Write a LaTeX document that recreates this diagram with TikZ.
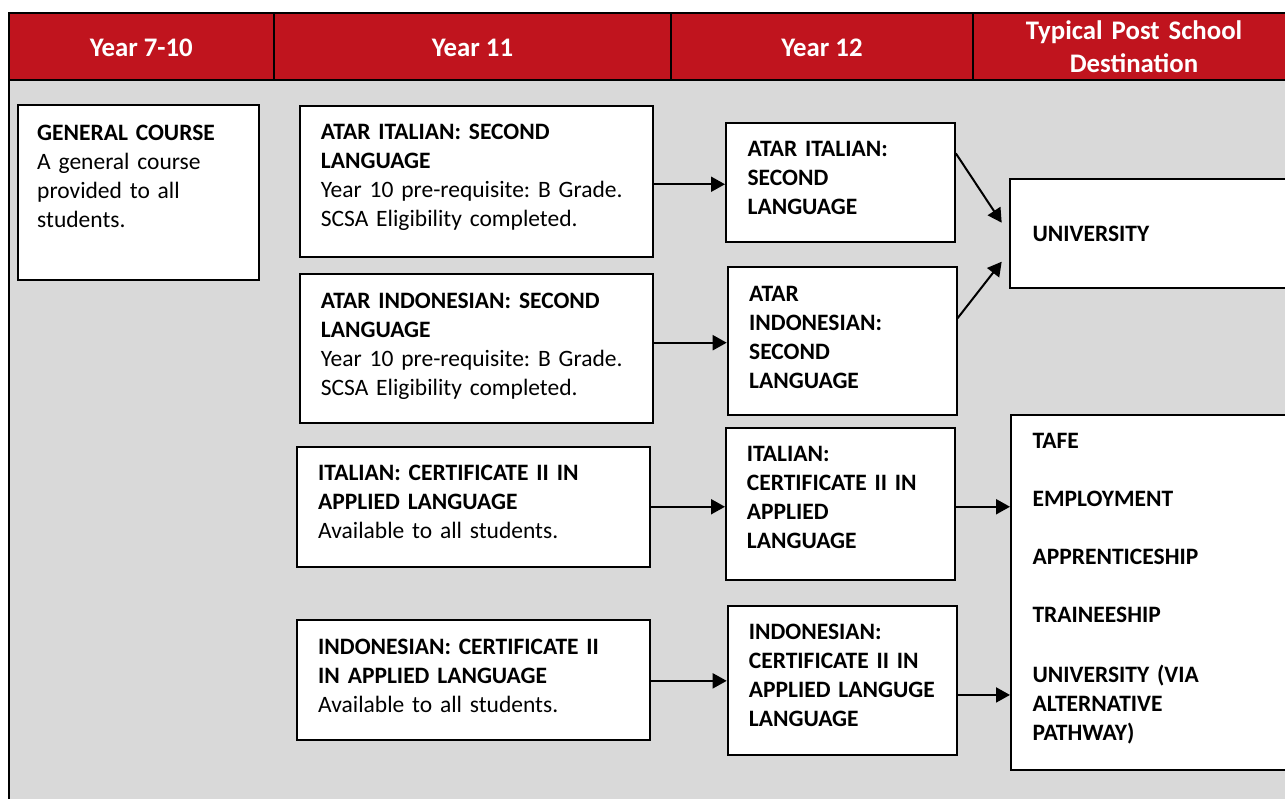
\documentclass[tikz,border=0pt]{standalone}
\usepackage{fontspec}
\setmainfont{Carlito}
\usetikzlibrary{arrows.meta}
\definecolor{hdrred}{RGB}{192,20,30}
\definecolor{bggray}{RGB}{217,217,217}
\newcommand\bodyfont{\fontsize{23.5}{29}\selectfont\frenchspacing}
\newcommand\hdrfont{\fontsize{26.8}{33.3}\selectfont\bfseries\frenchspacing}
\newcommand\inbox[2]{\hspace*{#1}\parbox[t]{\dimexpr\linewidth-#1\relax}{\raggedright #2}}
\tikzset{
  box/.style={draw=black, line width=1.8pt, fill=white, anchor=north west,
    inner sep=0pt, text height=34.3pt, font=\bodyfont},
  hdr/.style={text=white, font=\hdrfont, anchor=base, inner sep=0pt},
  arr/.style={line width=2pt, -{Triangle[length=14pt,width=15pt]}},
  rule/.style={draw=black, line width=1.6pt},
}
\begin{document}
\begin{tikzpicture}[x=1pt,y=-1pt]
\useasboundingbox (0,0) rectangle (1285,798);
\clip (0,0) rectangle (1285,798);
\fill[white] (0,0) rectangle (1285,798);
% frame and header
\fill[bggray] (8.7,13.3) rectangle (1310,820);
\fill[hdrred] (8.7,13.3) rectangle (1310,80);
\draw[rule] (274,13.3) -- (274,80);
\draw[rule] (671,13.3) -- (671,80);
\draw[rule] (973,13.3) -- (973,80);
\draw[line width=2.2pt] (8.7,80) -- (1310,80);
\draw[line width=2.2pt] (1310,13.3) -- (8.7,13.3) -- (8.7,820);
% header texts
\node[hdr] (h1) at (141.3,56) {Year 7-10};
\node[hdr] (h2) at (472.5,56) {Year 11};
\node[hdr] (h3) at (822,56) {Year 12};
\node[hdr, text width=320pt, align=center] (h4) at (1134,39.3) {Typical Post School\\Destination};
% Year 7-10
\node[box, text height=35pt, text width=241pt, text depth=140pt] (b1) at (17.3,104.3)
  {\inbox{19pt}{\textbf{GENERAL COURSE}\\A general course\\provided to all\\students.}};
% Year 11
\node[box, text width=352.4pt, text depth=117pt] (b2) at (299.3,104.7)
  {\inbox{20.7pt}{\textbf{ATAR ITALIAN: SECOND}\\\textbf{LANGUAGE}\\Year 10 pre-requisite: B Grade.\\SCSA Eligibility completed.}};
\node[box, text width=352.4pt, text depth=114.7pt] (b3) at (299.3,273.3)
  {\inbox{20.7pt}{\textbf{ATAR INDONESIAN: SECOND}\\\textbf{LANGUAGE}\\Year 10 pre-requisite: B Grade.\\SCSA Eligibility completed.}};
\node[box, text width=353pt, text depth=86pt] (b4) at (296,445.7)
  {\inbox{21.3pt}{\textbf{ITALIAN: CERTIFICATE II IN}\\\textbf{APPLIED LANGUAGE}\\Available to all students.}};
\node[box, text width=353pt, text depth=86pt] (b5) at (296,619)
  {\inbox{21.3pt}{\textbf{INDONESIAN: CERTIFICATE II}\\\textbf{IN APPLIED LANGUAGE}\\Available to all students.}};
% Year 12
\node[box, text height=33.4pt, text width=229pt, text depth=85.6pt] (b6) at (725,122.3)
  {\inbox{21.7pt}{\bfseries ATAR ITALIAN:\\SECOND\\LANGUAGE}};
\node[box, text width=229pt, text depth=113.4pt] (b7) at (726.7,266)
  {\inbox{21.6pt}{\bfseries ATAR\\INDONESIAN:\\SECOND\\LANGUAGE}};
\node[box, text width=229.3pt, text depth=118pt] (b8) at (725,426.7)
  {\inbox{21pt}{\bfseries ITALIAN:\\CERTIFICATE II IN\\APPLIED\\LANGUAGE}};
\node[box, text width=229.3pt, text depth=115pt] (b9) at (726.7,604.7)
  {\inbox{21.3pt}{\bfseries INDONESIAN:\\CERTIFICATE II IN\\APPLIED LANGUGE\\LANGUAGE}};
% destinations
\node[box, text height=62.7pt, text width=300pt, text depth=46.3pt] (b10) at (1009.3,178.3)
  {\inbox{22.4pt}{\bfseries UNIVERSITY}};
\node[box, text width=300pt, text depth=321pt] (b11) at (1010,413.7)
  {\inbox{21.7pt}{\bfseries TAFE\\[29pt]EMPLOYMENT\\[29pt]APPRENTICESHIP\\[29pt]TRAINEESHIP\\[30.5pt]UNIVERSITY (VIA\\ALTERNATIVE\\PATHWAY)}};
% connectors
\coordinate (a2) at ([yshift=-3pt]b2.east);
\coordinate (a3) at ([yshift=6pt]b3.east);
\coordinate (a4) at (b4.east);
\coordinate (a5) at ([yshift=-0.8pt]b5.east);
\coordinate (a8) at ([yshift=-3pt]b8.east);
\coordinate (a9) at ([yshift=-14.7pt]b9.east);
\draw[arr] (a2) -- (a2 -| b6.west);
\draw[arr] (a3) -- (a3 -| b7.west);
\draw[arr] (a4) -- (a4 -| b8.west);
\draw[arr] (a5) -- (a5 -| b9.west);
\draw[arr] (a8) -- (a8 -| b11.west);
\draw[arr] (a9) -- (a9 -| b11.west);
\coordinate (u1) at ([xshift=-7.6pt,yshift=-44.4pt]b10.north west);
\coordinate (u2) at ([xshift=-7.6pt,yshift=-83.4pt]b10.north west);
\draw[arr] ([yshift=-31pt]b6.north east) -- (u1);
\draw[arr] ([yshift=-52.3pt]b7.north east) -- (u2);
\end{tikzpicture}
\end{document}
